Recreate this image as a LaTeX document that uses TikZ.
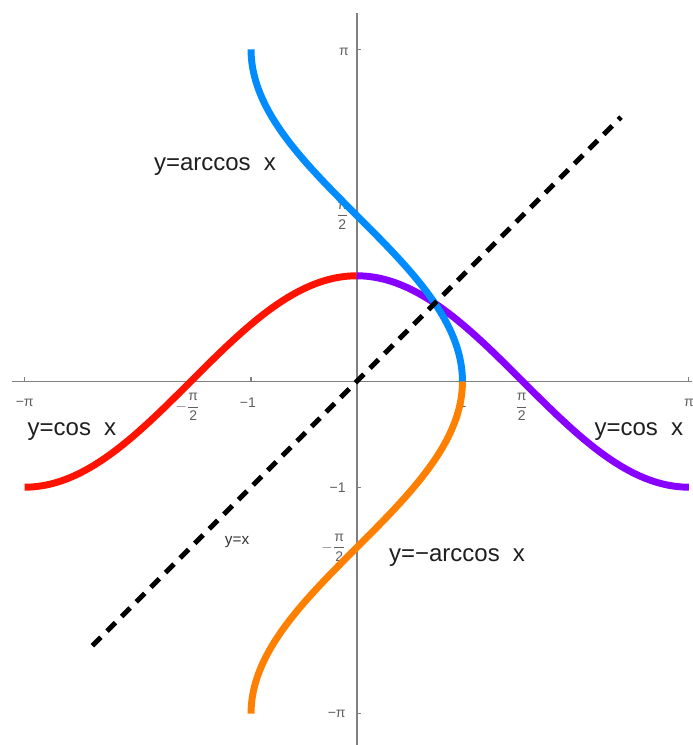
\documentclass[tikz,border=0pt]{standalone}
\usepackage{amsmath}
\usepackage{fontspec}
\setmainfont{Liberation Sans}
\usepackage{xcolor}
\usepackage{tikz}
\definecolor{cosred}{RGB}{255,18,0}
\definecolor{cosviolet}{RGB}{136,0,255}
\definecolor{acosblue}{RGB}{0,140,255}
\definecolor{acosorange}{RGB}{255,128,0}
\definecolor{axisgray}{RGB}{128,128,128}
\definecolor{ticktext}{RGB}{95,95,95}
\newcommand{\pihalf}{\dfrac{\text{π}}{\text{2}}}

\begin{document}
\begin{tikzpicture}[
  x=79.3pt, y=79.3pt,
  axisline/.style={draw=axisgray, line width=1.3pt},
  tickmark/.style={draw=axisgray, line width=0.9pt},
  ticklabel/.style={font=\fontsize{10.5}{12}\selectfont, text=ticktext, inner sep=1pt},
  curve/.style={line width=5.2pt, smooth, samples=120},
  diag/.style={line width=3.7pt, dash pattern=on 9pt off 6.5pt},
  curvelabel/.style={font=\fontsize{18}{20}\selectfont, text=black!88, inner sep=0pt}
]
\useasboundingbox (-3.375,-3.439) rectangle (3.172,3.609);

\coordinate (xl) at (-3.262,0);
\coordinate (xr) at (3.172,0);
\coordinate (yb) at (0,-3.439);
\coordinate (yt) at (0,3.486);
\draw[axisline] (xl) -- (xr);
\draw[axisline] (yb) -- (yt);

\draw[tickmark] (-pi,0) -- ++(0,0.04);
\draw[tickmark] (-pi/2,0) -- ++(0,0.04);
\draw[tickmark] (-1,0) -- ++(0,0.04);
\draw[tickmark] (1,0) -- ++(0,0.04);
\draw[tickmark] (pi/2,0) -- ++(0,0.04);
\draw[tickmark] (pi,0) -- ++(0,0.04);
\draw[tickmark] (0,pi) -- ++(0.04,0);
\draw[tickmark] (0,pi/2) -- ++(0.04,0);
\draw[tickmark] (0,-1) -- ++(0.04,0);
\draw[tickmark] (0,-pi/2) -- ++(0.04,0);
\draw[tickmark] (0,-pi) -- ++(0.04,0);

\node[ticklabel] (xt1) at (-pi,-0.2) {−π};
\node[ticklabel] (xt2) at (-1.6,-0.24) {$-\pihalf$};
\node[ticklabel] (xt3) at (-1.03,-0.2) {−1};
\node[ticklabel] (xt4) at (1,-0.2) {1};
\node[ticklabel] (xt5) at (1.56,-0.24) {$\pihalf$};
\node[ticklabel] (xt6) at (pi,-0.2) {π};
\node[ticklabel, anchor=east] (yt1) at (-0.06,3.12) {π};
\node[ticklabel, anchor=east] (yt2) at (-0.06,pi/2) {$\pihalf$};
\node[ticklabel, anchor=east] (yt3) at (-0.09,-1) {−1};
\node[ticklabel, anchor=east] (yt4) at (-0.09,-pi/2) {$-\pihalf$};
\node[ticklabel, anchor=east] (yt5) at (-0.09,-pi) {−π};

\draw[curve, cosred] plot[domain=-pi:0] (\x, {cos(\x r)});
\draw[curve, cosviolet] plot[domain=0:pi] (\x, {cos(\x r)});
\draw[curve, acosorange] plot[domain=0:pi, variable=\t] ({cos(\t r)}, -\t);
\draw[curve, acosblue] plot[domain=0:pi, variable=\t] ({cos(\t r)}, \t);

\coordinate (dlo) at (-2.5,-2.5);
\coordinate (dhi) at (2.5,2.5);
\draw[diag] (dlo) -- (dhi);

\node[curvelabel] (acos) at (-1.341,2.029) {y=arccos\hspace{0.55em}x};
\node[curvelabel] (cosl) at (-2.694,-0.478) {y=cos\hspace{0.55em}x};
\node[curvelabel] (cosr) at (2.669,-0.478) {y=cos\hspace{0.55em}x};
\node[curvelabel] (nacos) at (0.949,-1.670) {y=−arccos\hspace{0.55em}x};
\node[font=\fontsize{11.5}{13}\selectfont, text=black!80, inner sep=0pt] (idl) at (-1.132,-1.519) {y=x};
\end{tikzpicture}
\end{document}
